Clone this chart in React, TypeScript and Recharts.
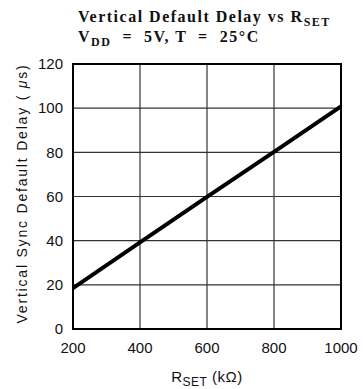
import React from "react";
import { LineChart, Line, XAxis, YAxis, CartesianGrid, ReferenceArea, Label } from "recharts";

const rset = [200, 400, 600, 800, 1000];
const delay = [18.5, 39.2, 59.8, 80.2, 100.8];
const xTicks = [200, 400, 600, 800, 1000];
const yTicks = [0, 20, 40, 60, 80, 100, 120];

const data = rset.map((r, i) => ({ r, d: delay[i] }));

const tickStyle = { fontFamily: "'Liberation Sans', Arial, sans-serif", fontSize: 15, fill: "#111" };

function YTitle(props: any) {
  const vb = props.viewBox;
  const cx = vb.x + 22;
  const cy = vb.y + vb.height / 2 - 3;
  return (
    <text
      x={cx}
      y={cy}
      transform={`rotate(-90 ${cx} ${cy})`}
      textAnchor="middle"
      dominantBaseline="central"
      style={{ fontFamily: "'Liberation Sans', Arial, sans-serif", fontSize: 14, letterSpacing: 1.8, fill: "#111" }}
    >
      Vertical Sync Default Delay ( <tspan fontStyle="italic">μ</tspan>s)
    </text>
  );
}

function XTitle(props: any) {
  const vb = props.viewBox;
  const cx = vb.x + vb.width / 2;
  return (
    <text
      x={cx}
      y={vb.y + 53}
      textAnchor="middle"
      style={{ fontFamily: "'Liberation Sans', Arial, sans-serif", fontSize: 15, letterSpacing: 0.5, fill: "#111" }}
    >
      R<tspan fontSize={12} dy={4}>SET</tspan>
      <tspan dy={-4}>{"  (kΩ)"}</tspan>
    </text>
  );
}

const subStyle = { fontSize: 12, verticalAlign: "-4px", lineHeight: 0 };

export default function App() {
  return (
    <div style={{ position: "absolute", left: 0, top: 0, width: 363, height: 389, background: "#fff" }}>
      <div
        style={{
          position: "absolute",
          left: 78,
          top: 7,
          fontFamily: "'Liberation Serif', serif",
          fontWeight: "bold",
          fontSize: 16,
          letterSpacing: 1.5,
          lineHeight: "20px",
          color: "#111",
          whiteSpace: "pre",
        }}
      >
        <div>
          Vertical Default Delay vs R<sub style={subStyle}>SET</sub>
        </div>
        <div>
          V<sub style={subStyle}>DD</sub>{"  =  5V, T  =  25°C"}
        </div>
      </div>
      <LineChart width={363} height={389} data={data} margin={{ top: 64, right: 22, bottom: 0, left: 0 }}>
        <CartesianGrid stroke="#333" strokeWidth={1.2} horizontalValues={yTicks} verticalValues={xTicks} />
        <XAxis
          dataKey="r"
          type="number"
          domain={[200, 1000]}
          ticks={xTicks}
          tickLine={false}
          tickSize={0}
          tickMargin={13}
          axisLine={{ stroke: "#000", strokeWidth: 2 }}
          tick={tickStyle}
          height={60}
        >
          <Label content={XTitle} />
        </XAxis>
        <YAxis
          type="number"
          domain={[0, 120]}
          ticks={yTicks}
          tickLine={false}
          tickSize={0}
          tickMargin={10}
          axisLine={{ stroke: "#000", strokeWidth: 2 }}
          tick={tickStyle}
          width={73}
        >
          <Label content={YTitle} />
        </YAxis>
        <ReferenceArea x1={200} x2={1000} y1={0} y2={120} fill="none" stroke="#000" strokeWidth={2} ifOverflow="visible" />
        <Line dataKey="d" stroke="#000" strokeWidth={4} dot={false} isAnimationActive={false} />
      </LineChart>
    </div>
  );
}
